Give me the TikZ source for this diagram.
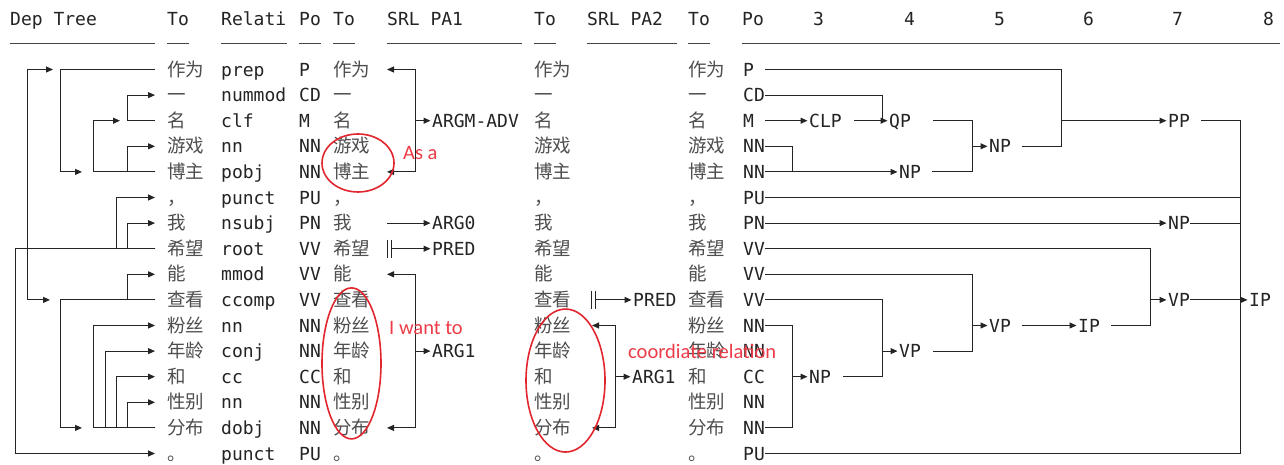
\documentclass[tikz,border=0pt]{standalone}
\usepackage{fontspec}
\setmonofont{DejaVu Sans Mono}
\newfontfamily\cjk{Noto Sans CJK SC}
\newfontfamily\notefont{Carlito}
\usetikzlibrary{arrows.meta}
\definecolor{inkgray}{HTML}{242424}
\definecolor{tokgray}{HTML}{4E4E4E}
\definecolor{ringred}{HTML}{E2262E}
\definecolor{notered}{HTML}{EC3C48}

\begin{document}
\begin{tikzpicture}[
  x=1pt, y=-25.6pt,
  lab/.style={font=\fontsize{18}{20}\selectfont\ttfamily, text=inkgray,
    inner sep=0pt, anchor=west, text height=16pt, text depth=3pt},
  tok/.style={lab, font=\fontsize{18.5}{20}\selectfont\cjk, text=tokgray},
  tree/.style={draw=inkgray, line width=1pt},
  arrow/.style={tree, -{Triangle[length=7pt,width=6pt]}},
  both/.style={tree, {Triangle[length=7pt,width=6pt]}-{Triangle[length=7pt,width=6pt]}},
  into/.style={shorten >=1.5pt},
  rule/.style={draw=inkgray!85, line width=0.9pt},
  ring/.style={draw=ringred, line width=1.6pt},
  note/.style={font=\fontsize{20.5}{22}\selectfont\notefont, text=notered,
    inner sep=0pt, anchor=west}
]
\useasboundingbox (0,-1.715) rectangle (1284,16.449);
\fill[white] (0,-1.715) rectangle (1284,16.449);

% column heads and rules
\foreach \txt/\x in {Dep Tree/10, To/167, Relati/221, Po/299, To/333, SRL PA1/387,
    To/534, SRL PA2/587, To/688, Po/742, 3/813, 4/904, 5/994, 6/1083, 7/1172, 8/1263}
  \node[lab] (hd\x) at (\x,-0.965) {\txt};
\foreach \a/\b in {10/155, 167/189, 221/287, 299/321, 333/355, 387/522,
    534/556, 587/677, 688/710, 742/1280}
  \draw[rule] (\a,-0.035) -- (\b,-0.035);

% one row per token
\foreach \w [count=\i] in {作为,一,名,游戏,博主,，,我,希望,能,查看,粉丝,年龄,和,性别,分布,。}{
  \node[tok] (ta\i) at (167,\i) {\w};
  \node[tok] (tb\i) at (333,\i) {\w};
  \node[tok] (tc\i) at (534,\i) {\w};
  \node[tok] (td\i) at (688,\i) {\w};
}
\foreach \r [count=\i] in {prep,nummod,clf,nn,pobj,punct,nsubj,root,mmod,ccomp,
    nn,conj,cc,nn,dobj,punct}
  \node[lab] (rel\i) at (221,\i) {\r};
\foreach \p [count=\i] in {P,CD,M,NN,NN,PU,PN,VV,VV,VV,NN,NN,CC,NN,NN,PU}{
  \node[lab] (pa\i) at (299,\i) {\p};
  \node[lab] (pd\i) at (743,\i) {\p};
  \coordinate (ps\i) at (765,\i);
}

% dependency arcs: column, head, dependent, gap before dependent
\foreach \col/\head/\dep/\gap in {27/8/1/114, 60/1/5/85, 127/3/2/12, 93/5/3/47,
    127/5/4/12, 116/8/6/12, 127/8/7/12, 27/8/10/117, 127/10/9/12, 60/10/15/85,
    93/15/11/12, 105/15/12/12, 116/15/13/12, 127/15/14/12, 15/8/16/12}
  \draw[arrow] ([xshift=-12pt]ta\head.west) -- (\col,\head) -- (\col,\dep)
    -- ([xshift=-1pt*\gap]ta\dep.west);

% SRL, first predicate
\node[lab] (argm) at (432,3) {ARGM-ADV};
\node[lab] (arg0) at (432,7) {ARG0};
\node[lab] (predA) at (432,8) {PRED};
\node[lab] (argA) at (432,12) {ARG1};
\draw[both] (387,1) -- (415,1) -- (415,5) -- (387,5);
\draw[arrow,into] (415,3) -- (argm.west);
\draw[arrow,into] (387,7) -- (arg0.west);
\draw[tree] (387,7.65) -- (387,8.35) (391.5,7.65) -- (391.5,8.35);
\draw[arrow,into] (391.5,8) -- (predA.west);
\draw[both] (387,9) -- (415,9) -- (415,15) -- (387,15);
\draw[arrow,into] (415,12) -- (argA.west);

% SRL, second predicate
\node[lab] (predB) at (633,10) {PRED};
\node[lab] (argB) at (632,13) {ARG1};
\draw[tree] (591,9.65) -- (591,10.35) (595.5,9.65) -- (595.5,10.35);
\draw[arrow,into] (595.5,10) -- (predB.west);
\draw[both] (592,11) -- (615,11) -- (615,15) -- (592,15);
\draw[arrow,into] (615,13) -- (argB.west);

% constituency labels
\node[lab] (clp) at (809,3) {CLP};
\node[lab] (qp) at (889,3) {QP};
\node[lab] (npa) at (899,5) {NP};
\node[lab] (npb) at (989,4) {NP};
\node[lab] (pp) at (1168,3) {PP};
\node[lab] (npc) at (1168,7) {NP};
\node[lab] (npd) at (809,13) {NP};
\node[lab] (vpa) at (899,12) {VP};
\node[lab] (vpb) at (989,11) {VP};
\node[lab] (ipa) at (1078,11) {IP};
\node[lab] (vpc) at (1168,10) {VP};
\node[lab] (ipb) at (1249,10) {IP};

% constituency brackets
\draw[arrow,into] (ps3) -- (clp.west);
\draw[tree] ([xshift=12pt]clp.east) -- (882,3);
\draw[arrow,into] (ps2) -- (882,2) -- (882,3) -- (qp.west);
\draw[tree] (ps4) -- (792,4) -- (792,5);
\draw[arrow,into] (ps5) -- (npa.west);
\draw[tree] ([xshift=22pt]qp.east) -- (972,3) -- (972,5) -- ([xshift=11pt]npa.east);
\draw[arrow,into] (972,4) -- (npb.west);
\draw[tree] (ps1) -- (1061,1) -- (1061,4) -- ([xshift=11pt]npb.east);
\draw[arrow,into] (1061,3) -- (pp.west);
\draw[tree] ([xshift=11pt]pp.east) -- (1240,3) -- (1240,16) -- (ps16);
\draw[tree] (ps6) -- (1240,6);
\draw[arrow,into] (ps7) -- (npc.west);
\draw[tree] (npc.east) -- (1240,7);
\draw[tree] (ps8) -- (1150,8) -- (1150,11) -- ([xshift=11pt]ipa.east);
\draw[arrow,into] (1150,10) -- (vpc.west);
\draw[arrow,into] (vpc.east) -- (ipb.west);
\draw[arrow,into] ([xshift=11pt]vpb.east) -- (ipa.west);
\draw[tree] (ps9) -- (972,9) -- (972,12) -- ([xshift=12pt]vpa.east);
\draw[arrow,into] (972,11) -- (vpb.west);
\draw[tree] (ps10) -- (882,10) -- (882,13) -- ([xshift=12pt]npd.east);
\draw[arrow,into] (882,12) -- (vpa.west);
\draw[tree] (ps11) -- (792,11) -- (792,15) -- (ps15);
\draw[arrow,into] (792,13) -- (npd.west);

% red remarks
\draw[ring] (358,4.652) ellipse [x radius=36pt, y radius=29pt];
\draw[ring] (351.5,12.48) ellipse [x radius=29.5pt, y radius=75.5pt];
\draw[ring] (565.5,13.15) ellipse [x radius=39.5pt, y radius=71.5pt];
\node[note] (asa) at (403,4.27) {As a};
\node[note] (want) at (389,11.1) {I want to};
\node[note] (coord) at (628,12.03) {coordiate relation};
\end{tikzpicture}
\end{document}
